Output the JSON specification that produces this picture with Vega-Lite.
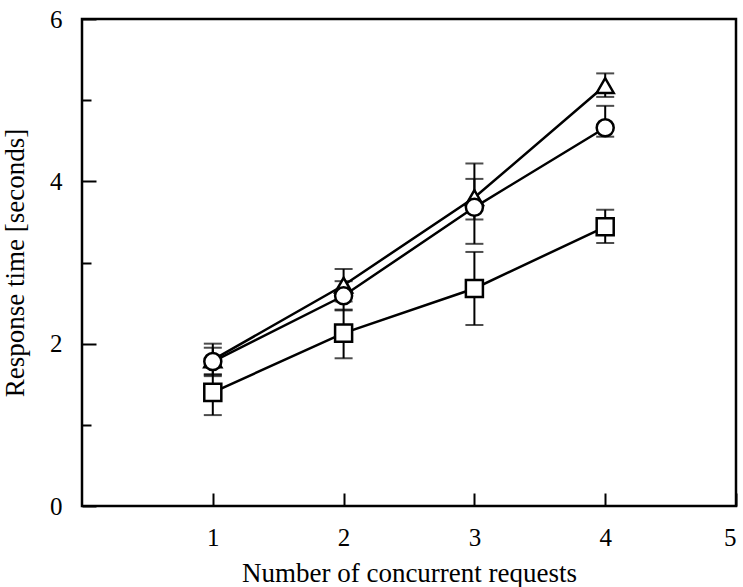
{
  "$schema": "https://vega.github.io/schema/vega-lite/v6.json",
  "width": 654,
  "height": 487,
  "autosize": "none",
  "padding": {"left": 82, "top": 19, "right": 7, "bottom": 81},
  "background": "white",
  "config": {
    "view": {"stroke": "black", "strokeWidth": 2.5},
    "font": "Liberation Serif"
  },
  "data": {
    "values": [
      {"series": "triangle", "x": 1, "y": 1.80, "lo": 1.60, "hi": 2.00},
      {"series": "triangle", "x": 2, "y": 2.72, "lo": 2.52, "hi": 2.92},
      {"series": "triangle", "x": 3, "y": 3.80, "lo": 3.53, "hi": 4.03},
      {"series": "triangle", "x": 4, "y": 5.18, "lo": 5.04, "hi": 5.33},
      {"series": "circle", "x": 1, "y": 1.78, "lo": 1.62, "hi": 1.95},
      {"series": "circle", "x": 2, "y": 2.59, "lo": 2.41, "hi": 2.77},
      {"series": "circle", "x": 3, "y": 3.68, "lo": 3.23, "hi": 4.22},
      {"series": "circle", "x": 4, "y": 4.66, "lo": 4.55, "hi": 4.93},
      {"series": "square", "x": 1, "y": 1.40, "lo": 1.12, "hi": 1.62},
      {"series": "square", "x": 2, "y": 2.13, "lo": 1.82, "hi": 2.42},
      {"series": "square", "x": 3, "y": 2.68, "lo": 2.23, "hi": 3.13},
      {"series": "square", "x": 4, "y": 3.44, "lo": 3.24, "hi": 3.65}
    ]
  },
  "encoding": {
    "x": {
      "field": "x", "type": "quantitative",
      "scale": {"domain": [0, 5], "nice": false, "zero": false},
      "axis": {
        "title": "Number of concurrent requests",
        "values": [1, 2, 3, 4, 5],
        "domain": false, "grid": false,
        "tickColor": "black", "tickWidth": 2,
        "tickSize": -13,
        "labelFont": "Liberation Serif", "labelFontSize": 25, "labelColor": "black",
        "labelPadding": 32,
        "titleFont": "Liberation Serif", "titleFontSize": 27, "titleFontWeight": "normal", "titleColor": "black",
        "titlePadding": 10
      }
    },
    "y": {
      "field": "y", "type": "quantitative",
      "scale": {"domain": [0, 6], "nice": false},
      "axis": {
        "title": "Response time [seconds]",
        "values": [0, 1, 2, 3, 4, 5, 6],
        "labelExpr": "datum.value % 2 === 0 ? datum.label : ''",
        "domain": false, "grid": false,
        "tickColor": "black", "tickWidth": 2,
        "tickSize": {"condition": {"test": "datum.value % 2 === 1", "value": -9}, "value": -14},
        "labelFont": "Liberation Serif", "labelFontSize": 25, "labelColor": "black",
        "labelPadding": 34,
        "titleFont": "Liberation Serif", "titleFontSize": 27, "titleFontWeight": "normal", "titleColor": "black",
        "titleX": -67,
        "titleBaseline": "middle"
      }
    }
  },
  "layer": [
    {
      "mark": {"type": "line", "color": "black", "strokeWidth": 2.5},
      "encoding": {"detail": {"field": "series"}}
    },
    {
      "mark": {"type": "rule", "color": "black", "strokeWidth": 2},
      "encoding": {"y": {"field": "lo", "type": "quantitative"}, "y2": {"field": "hi"}}
    },
    {
      "mark": {"type": "tick", "color": "black", "orient": "horizontal", "size": 18, "thickness": 2},
      "encoding": {"y": {"field": "lo", "type": "quantitative"}}
    },
    {
      "mark": {"type": "tick", "color": "black", "orient": "horizontal", "size": 18, "thickness": 2},
      "encoding": {"y": {"field": "hi", "type": "quantitative"}}
    },
    {
      "mark": {"type": "point", "filled": false, "fill": "white", "fillOpacity": 1, "stroke": "black", "strokeWidth": 2.5, "opacity": 1, "size": 290},
      "encoding": {
        "shape": {
          "field": "series", "type": "nominal",
          "scale": {"domain": ["triangle", "circle", "square"], "range": ["triangle-up", "circle", "square"]},
          "legend": null
        }
      }
    }
  ]
}
